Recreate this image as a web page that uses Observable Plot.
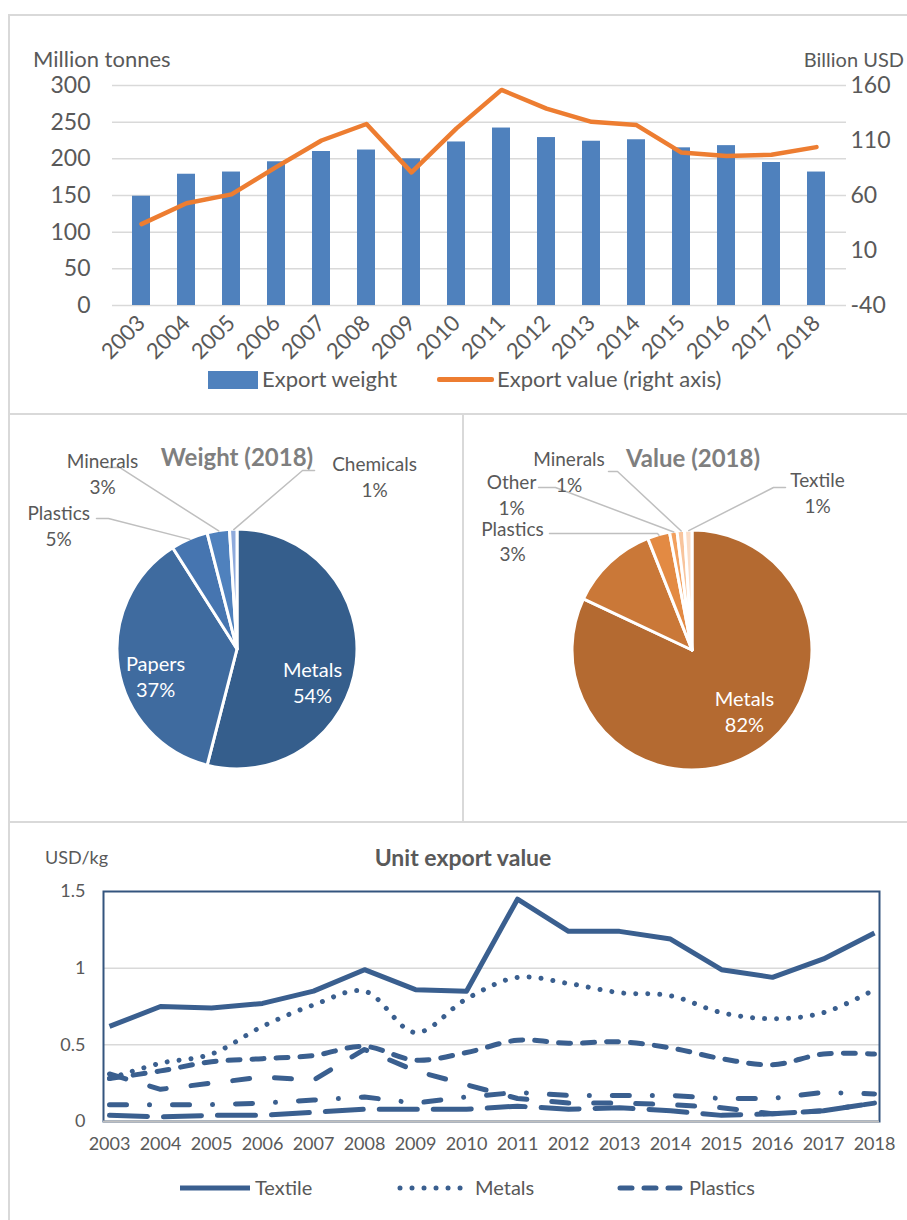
<!DOCTYPE html>
<html><head><meta charset="utf-8">
<script src="https://cdn.jsdelivr.net/npm/d3@7"></script>
<script src="https://cdn.jsdelivr.net/npm/@observablehq/plot@0.6"></script>
<style>
html,body{margin:0;padding:0;background:#fff;}
#root{position:relative;width:907px;height:1220px;overflow:hidden;font-family:Lato,"Open Sans",sans-serif;color:#595959;}
.abs{position:absolute;}
.t{position:absolute;white-space:nowrap;line-height:1;}
.hl{position:absolute;background:#D9D9D9;}
</style></head><body><div id="root"></div>
<script>
// ---------- DATA ----------
const years = ["2003","2004","2005","2006","2007","2008","2009","2010","2011","2012","2013","2014","2015","2016","2017","2018"];
const exportWeight = [149,179,182,196,210,212,200,223,242,229,224,226,215,218,195,182]; // million tonnes
const exportValue  = [34,53,61,86,110,125,81,121,156,139,127,124,99,96,97,104];          // billion USD
const leftTicks = [0,50,100,150,200,250,300];
const rightTicks = [-40,10,60,110,160];

const weightCategories = ["Metals","Papers","Plastics","Minerals","Chemicals"];
const weightShares = [54,37,5,3,1];
const valueCategories = ["Metals","Papers","Plastics","Other","Minerals","Textile"];
const valueShares = [82,12,3,1,1,1];

const textile  = [0.62,0.75,0.74,0.77,0.85,0.99,0.86,0.85,1.45,1.24,1.24,1.19,0.99,0.94,1.06,1.23];
const metals   = [0.28,0.38,0.44,0.62,0.76,0.85,0.58,0.80,0.94,0.90,0.84,0.82,0.71,0.67,0.71,0.86];
const plastics = [0.28,0.33,0.39,0.41,0.43,0.49,0.40,0.45,0.53,0.51,0.52,0.48,0.41,0.37,0.44,0.44];
// further series drawn in the chart but not named in its legend
const unlabelledA = [0.31,0.21,0.25,0.29,0.27,0.47,0.33,0.24,0.15,0.12,0.12,0.11,0.09,0.05,0.07,0.12];
const unlabelledB = [0.11,0.11,0.11,0.12,0.14,0.16,0.12,0.16,0.19,0.17,0.17,0.17,0.15,0.15,0.19,0.18];
const unlabelledC = [0.04,0.03,0.04,0.04,0.06,0.08,0.08,0.08,0.10,0.08,0.09,0.07,0.04,0.05,0.07,0.12];
const unitTicks = [0,0.5,1,1.5];

// ---------- STYLE / LAYOUT ----------
const FONT = "Lato, 'Open Sans', sans-serif";
const GREY = "#595959";
const root = document.getElementById("root");

function txt(s, x, cy, size, o = {}) {
  const d = document.createElement("div");
  d.className = "t";
  d.textContent = s;
  d.style.fontSize = size + "px";
  d.style.top = (cy - 0.53 * size) + "px";
  d.style.color = o.color || GREY;
  if (o.weight) d.style.fontWeight = o.weight;
  if (o.anchor === "middle") { d.style.left = x + "px"; d.style.transform = "translateX(-50%)"; }
  else if (o.anchor === "end") { d.style.right = (907 - x) + "px"; }
  else d.style.left = x + "px";
  root.appendChild(d);
}
function line(x, y, w, h) {
  const d = document.createElement("div");
  d.className = "hl";
  Object.assign(d.style, {left: x + "px", top: y + "px", width: w + "px", height: h + "px"});
  root.appendChild(d);
}
function place(node, left, top) {
  node.style.position = "absolute";
  node.style.left = left + "px";
  node.style.top = top + "px";
  root.appendChild(node);
}

// panel borders
line(9, 14, 898, 2);
line(8, 14, 2, 1206);
line(9, 413, 898, 2);
line(462, 414, 2, 408);
line(9, 821, 898, 2);

// ---------- TOP: bars + line ----------
const topData = years.map((year, i) => ({year, weight: exportWeight[i], value: exportValue[i]}));
const xTop = {type: "band", domain: years, paddingInner: 0.59, paddingOuter: 0.295};
const topDims = {width: 907, height: 410, marginLeft: 112, marginRight: 61, marginTop: 85, marginBottom: 105};
const topStyle = {fontFamily: FONT, fontSize: "22px", color: GREY, background: "transparent", overflow: "visible"};

const p1 = Plot.plot({
  ...topDims, style: topStyle,
  x: {...xTop, tickRotate: -45, tickSize: 0, tickPadding: 14, label: null},
  y: {domain: [0, 300], ticks: leftTicks, tickSize: 0, tickPadding: 22, label: null, tickFormat: d => String(d)},
  marks: [
    Plot.ruleY(leftTicks, {stroke: "#D9D9D9", strokeWidth: 1.5}),
    Plot.barY(topData, {x: "year", y: "weight", fill: "#4F81BD"})
  ]
});
place(p1, 0, 0);

const p2 = Plot.plot({
  ...topDims, style: {...topStyle, fontSize: "23px"},
  x: {...xTop, axis: null},
  y: {domain: [-40, 160], axis: "right", ticks: rightTicks, tickSize: 0, tickPadding: 4, label: null, tickFormat: d => String(d)},
  marks: [
    Plot.line(topData, {x: "year", y: "value", stroke: "#ED7D31", strokeWidth: 4.5, strokeLinejoin: "round", strokeLinecap: "round"})
  ]
});
place(p2, 0, 0);
p1.querySelectorAll("[aria-label='y-axis'] text, [aria-label='y-axis tick label'] text").forEach(t => t.setAttribute("font-size", "23"));

txt("Million tonnes", 33, 60, 22);
txt("Billion USD", 904, 60, 20, {anchor: "end"});
// legend
(function(){
  const s = document.createElement("div");
  Object.assign(s.style, {position: "absolute", left: "208px", top: "371px", width: "50px", height: "18px", background: "#4F81BD"});
  root.appendChild(s);
  txt("Export weight", 262, 380, 22);
  const l = document.createElement("div");
  Object.assign(l.style, {position: "absolute", left: "437px", top: "377px", width: "57px", height: "5px", background: "#ED7D31", borderRadius: "2px"});
  root.appendChild(l);
  txt("Export value (right axis)", 497, 380, 22);
})();

// ---------- MIDDLE: pies ----------
const weightColors = ["#355E8C", "#3F6B9F", "#4675B0", "#4F81BD", "#8FAADC"];
const valueColors  = ["#B46A31", "#CA7838", "#E38A43", "#F2A05E", "#F8C49C", "#FBDDC7"];
// label placement in pie-radius units, relative to pie centre (y up)
const weightLayout = {
  Metals:    {inside: true, label: [0.625, -0.267]},
  Papers:    {inside: true, label: [-0.683, -0.217]},
  Plastics:  {label: [-1.49, 1.04],  elbow: [-1.075, 1.092], end: [-1.175, 1.092]},
  Minerals:  {label: [-1.125, 1.47], elbow: [-0.983, 1.517], end: [-1.10, 1.517]},
  Chemicals: {label: [1.142, 1.45],  elbow: [0.542, 1.492],  end: [0.642, 1.492]}
};
const valueLayout = {
  Metals:   {inside: true, label: [0.433, -0.504]},
  Plastics: {label: [-1.50, 0.917],  elbow: [-0.292, 0.975], end: [-1.192, 0.975]},
  Other:    {label: [-1.508, 1.304], elbow: [-1.142, 1.358], end: [-1.283, 1.358]},
  Minerals: {label: [-1.029, 1.50],  elbow: [-0.625, 1.492], end: [-0.70, 1.492]},
  Textile:  {label: [1.042, 1.321],  elbow: [0.675, 1.358],  end: [0.775, 1.358]}
};

function piePanel({width, height, cx, cy, r, names, shares, colors, layout}) {
  const arcs = d3.pie().sort(null).value(d => d)(shares);
  const slices = names.map((name, i) => ({name, share: shares[i], mid: (arcs[i].startAngle + arcs[i].endAngle) / 2}));
  const outside = slices.filter(s => layout[s.name] && !layout[s.name].inside);
  const inside = slices.filter(s => layout[s.name] && layout[s.name].inside);
  const leaders = outside.flatMap(s => {
    const L = layout[s.name];
    return [
      {name: s.name, x: Math.sin(s.mid), y: Math.cos(s.mid)},
      {name: s.name, x: L.elbow[0], y: L.elbow[1]},
      {name: s.name, x: L.end[0], y: L.end[1]}
    ];
  });
  const pieMark = (index, scales) => {
    const x0 = scales.x(0), y0 = scales.y(0), rad = scales.x(1) - scales.x(0);
    const arc = d3.arc().innerRadius(0).outerRadius(rad);
    const g = d3.create("svg:g").attr("transform", `translate(${x0},${y0})`);
    g.selectAll("path").data(arcs).join("path")
      .attr("d", arc).attr("fill", (d, i) => colors[i])
      .attr("stroke", "white").attr("stroke-width", 3).attr("stroke-linejoin", "round");
    return g.node();
  };
  return Plot.plot({
    width, height, margin: 0,
    style: {fontFamily: FONT, background: "transparent", overflow: "visible"},
    x: {domain: [-cx / r, (width - cx) / r], axis: null},
    y: {domain: [-(height - cy) / r, cy / r], axis: null},
    marks: [
      pieMark,
      Plot.line(leaders, {x: "x", y: "y", z: "name", stroke: "#BFBFBF", strokeWidth: 1.5}),
      Plot.text(outside, {x: s => layout[s.name].label[0], y: s => layout[s.name].label[1], text: s => `${s.name}\n${s.share}%`, fill: GREY, fontSize: 19, lineHeight: 1.35}),
      Plot.text(inside, {x: s => layout[s.name].label[0], y: s => layout[s.name].label[1], text: s => `${s.name}\n${s.share}%`, fill: "white", fontSize: 20, lineHeight: 1.3})
    ]
  });
}
place(piePanel({width: 462, height: 406, cx: 237, cy: 234, r: 120, names: weightCategories, shares: weightShares, colors: weightColors, layout: weightLayout}), 0, 415);
place(piePanel({width: 444, height: 406, cx: 229, cy: 235, r: 120, names: valueCategories, shares: valueShares, colors: valueColors, layout: valueLayout}), 463, 415);
txt("Weight (2018)", 237, 458, 24, {anchor: "middle", weight: "bold", color: "#7F7F7F"});
txt("Value (2018)", 693, 459, 24, {anchor: "middle", weight: "bold", color: "#7F7F7F"});

// ---------- BOTTOM: unit export value ----------
const NAVY = "#3A5F8F";
const unitSeries = [
  {name: "unlabelledC", values: unlabelledC, dash: "38,16", curve: "linear"},
  {name: "unlabelledB", values: unlabelledB, dash: "17,23,0.01,23", curve: "linear"},
  {name: "unlabelledA", values: unlabelledA, dash: "17,25", curve: "linear"},
  {name: "Plastics", values: plastics, dash: "12,12", curve: "catmull-rom"},
  {name: "Metals", values: metals, dash: "0.01,12", curve: "catmull-rom"},
  {name: "Textile", values: textile, dash: null, curve: "linear"}
];
const p3 = Plot.plot({
  width: 907, height: 340, marginLeft: 103, marginRight: 28, marginTop: 69, marginBottom: 41,
  style: {fontFamily: FONT, fontSize: "18px", color: GREY, background: "transparent", overflow: "visible"},
  x: {type: "point", domain: years, padding: 0, tickSize: 0, tickPadding: 16, label: null},
  y: {domain: [0, 1.5], ticks: unitTicks, tickFormat: d => String(d), tickSize: 0, tickPadding: 18, label: null},
  marks: [
    Plot.ruleY(unitTicks.filter(t => t > 0 && t < 1.5), {stroke: "#D9D9D9", strokeWidth: 1.5}),
    Plot.frame({stroke: "#34557E", strokeWidth: 2}),
    Plot.ruleY([0], {stroke: "#BFBFBF", strokeWidth: 2}),
    ...unitSeries.map(s => Plot.line(years.map((year, i) => ({year, v: s.values[i]})), {
      x: "year", y: "v", stroke: NAVY, strokeWidth: 5, curve: s.curve,
      strokeDasharray: s.dash || undefined, strokeLinecap: s.dash ? "round" : "butt", strokeLinejoin: "round"
    }))
  ]
});
place(p3, 0, 822);
txt("USD/kg", 45, 858, 18);
txt("Unit export value", 463, 858, 23, {anchor: "middle", weight: "bold"});

// legend
(function(){
  const items = [
    {name: "Textile", x1: 180, x2: 250, dash: null},
    {name: "Metals", x1: 400, x2: 470, dash: "0.01,12"},
    {name: "Plastics", x1: 620, x2: 684, dash: "12,12"}
  ];
  const svg = d3.create("svg").attr("width", 907).attr("height", 30);
  items.forEach(it => {
    const l = svg.append("line").attr("x1", it.x1).attr("x2", it.x2).attr("y1", 15).attr("y2", 15)
      .attr("stroke", NAVY).attr("stroke-width", 5).attr("stroke-linecap", it.dash ? "round" : "butt");
    if (it.dash) l.attr("stroke-dasharray", it.dash);
    txt(it.name, it.x2 + 5, 1188, 20);
  });
  place(svg.node(), 0, 1173);
})();
</script></body></html>
